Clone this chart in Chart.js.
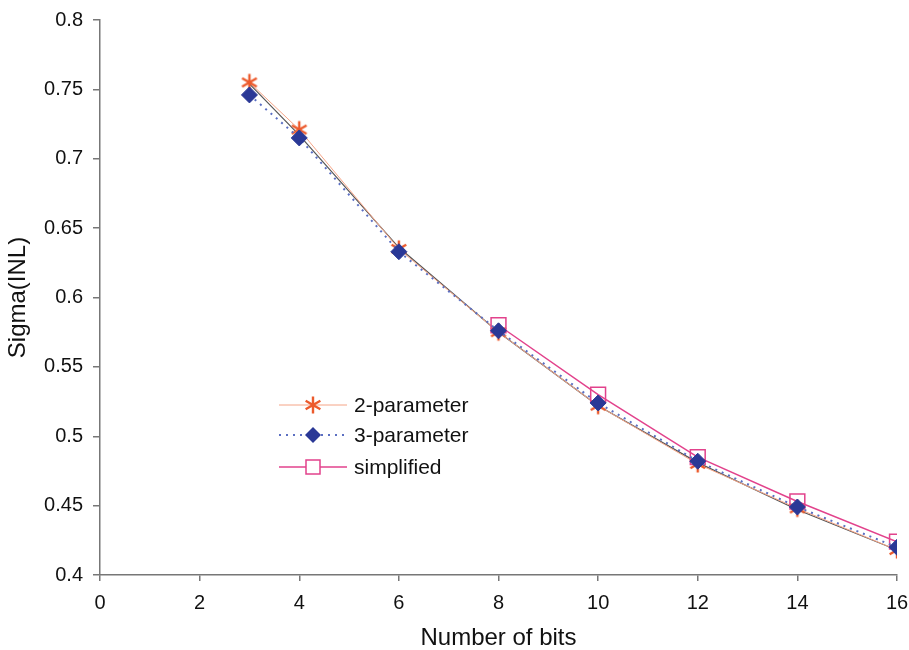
<!DOCTYPE html>
<html>
<head>
<meta charset="utf-8">
<script src="https://cdn.jsdelivr.net/npm/chart.js@4/dist/chart.umd.min.js"></script>
<style>
  html, body { margin: 0; padding: 0; background: #fff; overflow: hidden; }
  #wrap { width: 909px; height: 650px; }
</style>
</head>
<body>
<div id="wrap"><canvas id="line-chart" width="909" height="650"></canvas></div>
<script>
// number of bits on the x axis
var bits = [3, 4, 6, 8, 10, 12, 14, 16];
var twoParam = [0.755, 0.721, 0.635, 0.575, 0.522, 0.480, 0.448, 0.418];
var threeParam = [0.746, 0.715, 0.633, 0.576, 0.524, 0.482, 0.449, 0.420];
var simpleBits = [8, 10, 12, 14, 16];
var simplified = [0.580, 0.530, 0.485, 0.453, 0.424];
// thin dark line under the markers (not in the legend)
var measured = [0.754, 0.717, 0.636, 0.575, 0.522, 0.481, 0.447, 0.418];

var yTicks = [0.4, 0.45, 0.5, 0.55, 0.6, 0.65, 0.7, 0.75, 0.8];
var xTicks = [0, 2, 4, 6, 8, 10, 12, 14, 16];

function pts(xs, ys) {
  return xs.map(function (x, i) { return {x: x, y: ys[i]}; });
}

// excel style asterisk marker
function makeStar(size, color) {
  var c = document.createElement('canvas');
  c.width = size; c.height = size;
  var g = c.getContext('2d');
  var m = size / 2, r = size / 2 - 1.5;
  g.strokeStyle = color;
  g.lineWidth = 2.4;
  g.beginPath();
  for (var a = 0; a < 3; a++) {
    var ang = Math.PI / 2 + a * Math.PI / 3;
    g.moveTo(m + r * Math.cos(ang), m + r * Math.sin(ang));
    g.lineTo(m - r * Math.cos(ang), m - r * Math.sin(ang));
  }
  g.stroke();
  return c;
}

var star = makeStar(20, '#ec5a2c');
var font = "'Liberation Sans', Arial, sans-serif";

var legendBox = {
  id: 'legendBox',
  afterDraw: function (chart) {
    var ctx = chart.ctx;
    var rows = [
      {ds: chart.data.datasets[1], y: 405},
      {ds: chart.data.datasets[2], y: 435},
      {ds: chart.data.datasets[0], y: 467}
    ];
    ctx.save();
    rows.forEach(function (row) {
      var ds = row.ds;
      ctx.strokeStyle = ds.borderColor;
      ctx.lineWidth = ds.borderWidth;
      ctx.setLineDash(ds.borderDash || []);
      ctx.beginPath();
      ctx.moveTo(279, row.y);
      ctx.lineTo(347, row.y);
      ctx.stroke();
      ctx.setLineDash([]);
      if (ds.pointStyle === star) {
        ctx.drawImage(star, 313 - 10, row.y - 10);
      } else if (ds.pointStyle === 'rect') {
        ctx.fillStyle = '#fff';
        ctx.strokeStyle = ds.pointBorderColor;
        ctx.lineWidth = ds.pointBorderWidth;
        ctx.fillRect(306, row.y - 7, 14, 14);
        ctx.strokeRect(306, row.y - 7, 14, 14);
      } else {
        ctx.fillStyle = ds.pointBackgroundColor;
        ctx.beginPath();
        ctx.moveTo(313, row.y - 8);
        ctx.lineTo(321, row.y);
        ctx.lineTo(313, row.y + 8);
        ctx.lineTo(305, row.y);
        ctx.closePath();
        ctx.fill();
      }
      ctx.fillStyle = '#111';
      ctx.font = '21px ' + font;
      ctx.textBaseline = 'middle';
      ctx.fillText(ds.label, 354, row.y + 1);
    });
    ctx.restore();
  }
};

new Chart(document.getElementById("line-chart"), {
  type: 'line',
  data: {
    datasets: [{
        label: "simplified",
        data: pts(simpleBits, simplified),
        borderColor: "#e2428c",
        borderWidth: 1.5,
        pointStyle: 'rect',
        pointRadius: 10.5,
        pointBorderWidth: 1.5,
        pointBorderColor: "#e2428c",
        pointBackgroundColor: "rgba(255,255,255,0)",
        fill: false,
        order: 3
      },
      {
        label: "2-parameter",
        data: pts(bits, twoParam),
        borderColor: "#f5a486",
        borderWidth: 1,
        pointStyle: star,
        pointRadius: 10,
        fill: false,
        order: 4
      },
      {
        label: "3-parameter",
        data: pts(bits, threeParam),
        borderColor: "#5b6fc2",
        borderWidth: 2,
        borderDash: [2, 5],
        pointStyle: 'rectRot',
        pointRadius: 8,
        pointBorderWidth: 1,
        pointBorderColor: "#2a3896",
        pointBackgroundColor: "#2a3896",
        fill: false,
        order: 1
      },
      {
        label: "measured",
        data: pts(bits, measured),
        borderColor: "#555",
        borderWidth: 1.2,
        pointRadius: 0,
        fill: false,
        order: 5
      }
    ]
  },
  options: {
    responsive: false,
    animation: false,
    events: [],
    layout: { padding: { top: 20, right: 9, left: 0, bottom: 0 } },
    plugins: {
      legend: { display: false },
      tooltip: { enabled: false },
      title: { display: false }
    },
    scales: {
      x: {
        type: 'linear',
        min: 0,
        max: 16,
        afterBuildTicks: function (s) { s.ticks = xTicks.map(function (v) { return {value: v}; }); },
        afterFit: function (s) { s.height = 75; s.paddingLeft = 0; s.paddingRight = 0; },
        ticks: {
          color: '#111',
          padding: 10,
          maxRotation: 0,
          autoSkip: false,
          font: { family: font, size: 20 }
        },
        grid: { drawOnChartArea: false, tickLength: 6, color: '#777', lineWidth: 1.5 },
        border: { color: '#777', width: 1.5 },
        title: {
          display: true,
          text: 'Number of bits',
          color: '#111',
          padding: { top: 0, bottom: 0 },
          font: { family: font, size: 24, lineHeight: 1 }
        }
      },
      y: {
        min: 0.4,
        max: 0.8,
        afterBuildTicks: function (s) { s.ticks = yTicks.map(function (v) { return {value: v}; }); },
        afterFit: function (s) { s.width = 100; s.paddingTop = 0; s.paddingBottom = 0; },
        ticks: {
          color: '#111',
          padding: 10,
          autoSkip: false,
          font: { family: font, size: 20 },
          callback: function (v) { return String(Number(v.toFixed(2))); }
        },
        grid: { drawOnChartArea: false, tickLength: 7, color: '#777', lineWidth: 1.5 },
        border: { color: '#777', width: 1.5 },
        title: {
          display: true,
          text: 'Sigma(INL)',
          color: '#111',
          padding: { top: 6, bottom: 0 },
          font: { family: font, size: 24, lineHeight: 1 }
        }
      }
    }
  },
  plugins: [legendBox]
});
</script>
</body>
</html>
